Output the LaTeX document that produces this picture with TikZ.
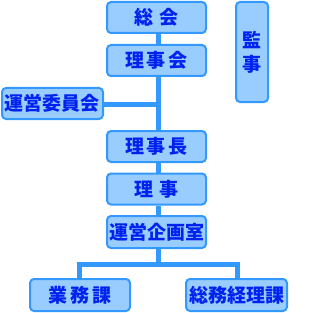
\documentclass[tikz,border=0pt]{standalone}
\usepackage{fontspec}
\newfontfamily\jp{Noto Sans CJK JP}
\usetikzlibrary{backgrounds}
\definecolor{boxfill}{HTML}{99CCFF}
\definecolor{boxline}{HTML}{3399FF}
\definecolor{txt}{HTML}{0022EE}
\tikzset{
  orgbox/.style={draw=boxline, fill=boxfill, line width=2pt, rounded corners=4pt,
    inner sep=0pt, minimum height=31pt, text=txt, font=\jp\bfseries\fontsize{19}{19}\selectfont},
  conn/.style={draw=boxline, line width=5pt}
}
\begin{document}
\begin{tikzpicture}[x=1pt,y=-1pt]
\useasboundingbox (0,0) rectangle (316,313);
\node[orgbox, minimum width=99pt] (sokai) at (156.5,17.5) {総\hspace{7pt}会};
\node[orgbox, minimum width=99pt] (rijikai) at (156.5,60.5) {理\hspace{3pt}事\hspace{3pt}会};
\node[orgbox, minimum width=101pt] (unei) at (52.5,103.5) {運営委員会};
\node[orgbox, minimum width=32pt, minimum height=100pt, align=center] (kanji) at (252,52) {監\\[5pt]事};
\node[orgbox, minimum width=99pt] (richo) at (156.5,146.5) {理\hspace{3pt}事\hspace{3pt}長};
\node[orgbox, minimum width=99pt] (riji) at (156.5,189) {理\hspace{7pt}事};
\node[orgbox, minimum width=99pt, minimum height=32pt] (kikaku) at (156.5,232) {運営企画室};
\node[orgbox, minimum width=100pt, minimum height=32pt] (gyomu) at (80,295) {業\hspace{3pt}務\hspace{3pt}課};
\node[orgbox, minimum width=101pt, minimum height=32pt] (somu) at (236.5,295) {総務経理課};
\coordinate (br) at (158.5,264.5);
\coordinate (jn) at (158.5,104.5);
\begin{scope}[on background layer]
\draw[conn] ([xshift=2pt]sokai.south) -- ([xshift=2pt]richo.north);
\draw[conn] (unei.east |- jn) -- (jn);
\draw[conn] ([xshift=2pt]richo.south) -- ([xshift=2pt]riji.north);
\draw[conn] ([xshift=2pt]riji.south) -- ([xshift=2pt]kikaku.north);
\draw[conn] ([xshift=2pt]kikaku.south) -- (br);
\draw[conn] ([xshift=-0.5pt]gyomu.north) -- ([xshift=-0.5pt]gyomu.north |- br) -- ([xshift=1pt]somu.north |- br) -- ([xshift=1pt]somu.north);
\end{scope}
\end{tikzpicture}
\end{document}
